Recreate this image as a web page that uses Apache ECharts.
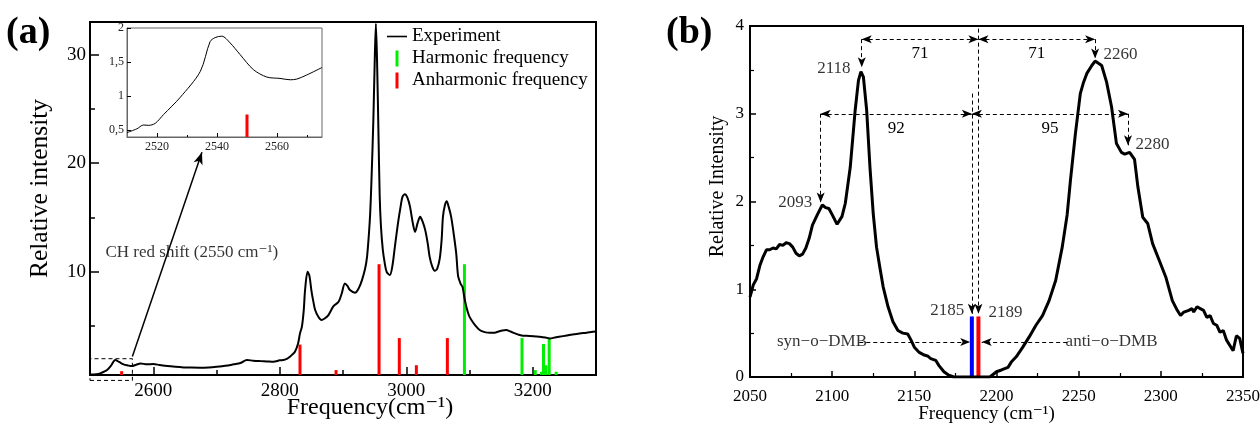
<!DOCTYPE html>
<html><head><meta charset="utf-8">
<script src="https://cdn.jsdelivr.net/npm/echarts@6/dist/echarts.min.js"></script>
<style>html,body{margin:0;padding:0;background:#fff}#c{width:1260px;height:424px}</style>
</head><body><div id="c"></div>
<script>
// ---------- Panel (a): experiment spectrum ----------
const expX = [2500,2510,2516,2522,2527,2533,2540,2546,2553,2560,2566,2573,2580,2590,2600,2610,2622,2635,2648,2660,2674,2688,2700,2714,2727,2738,2748,2758,2769,2780,2790,2800,2806,2812,2816,2820,2824,2829,2832,2835,2838,2840,2844,2847,2850,2853,2856,2861,2866,2871,2877,2885,2893,2898,2903,2907,2911,2919,2925,2930,2935,2938,2941,2943,2945,2948,2950,2952,2954,2956,2958,2960,2963,2966,2969,2974,2978,2982,2987,2991,2994,2998,3002,3006,3010,3014,3018,3022,3026,3030,3034,3037,3041,3045,3049,3053,3056,3058,3061,3064,3067,3071,3075,3079,3082,3086,3089,3092,3095,3099,3103,3110,3116,3124,3132,3140,3145,3152,3158,3165,3172,3178,3185,3195,3205,3211,3220,3227,3235,3248,3260,3274,3285,3295,3300];
const expY = [0.55,0.58,0.65,0.8,0.96,1.35,1.88,1.7,1.48,1.38,1.32,1.45,1.57,1.48,1.51,1.42,1.32,1.25,1.2,1.18,1.17,1.2,1.26,1.35,1.48,1.6,1.88,1.82,1.78,1.75,1.72,1.85,1.88,2.0,2.18,2.4,2.64,3.41,4.33,4.94,6.5,8.3,10.0,9.6,8.3,7.3,6.48,5.86,5.56,5.7,6.02,6.84,7.24,8.0,8.93,8.7,8.32,8.07,8.5,9.24,10.3,11.38,13.5,15.4,18.4,24,29,32.85,29,23,17,14.2,12.0,10.8,10.0,9.7,10.5,12.3,14.5,15.98,16.9,17.15,16.8,15.98,14.6,13.68,14.5,15.06,14.6,13.84,12.6,11.38,10.5,10.1,10.3,11.23,13.0,15.06,16.1,16.5,16.0,15.06,13.5,11.7,9.6,8.9,8.6,7.6,6.78,6.0,5.56,5.0,4.64,4.45,4.39,4.4,4.48,4.6,4.64,4.5,4.33,4.2,4.11,4.1,4.05,4.02,3.95,3.87,3.95,4.08,4.2,4.33,4.4,4.48,4.5];
const harmX = [3092,3183,3204,3214,3217,3221,3226,3237];
const harmY = [10.7,3.9,0.95,0.8,3.35,1.4,3.9,0.8];
const anharmX = [2550,2832,2889,2957,2989,3016,3065];
const anharmY = [0.85,3.3,0.95,10.7,3.9,1.4,3.9];
const aXMajor = [2600,2800,3000,3200];
const aXMinor = [2700,2900,3100];
const aYMajor = [10,20,30];
const aYMinor = [5,15,25];
const zoomBoxX = [2500,2567,2567,2500,2500];
const zoomBoxY = [0,0,2,2,0];
const zoomArrow = [[2567,2.2],[2677,21]];
const noteA = [[2661,11.75,'CH red shift (2550 cm\u207B\u00B9)']];
// inset
const insetX = [2510,2513.3,2515.5,2517.2,2519.4,2522.2,2527.7,2534.4,2537.7,2539.4,2541.6,2544.4,2547.7,2552.1,2556.6,2561,2564.4,2566.6,2569.9,2575];
const insetY = [0.465,0.52,0.576,0.571,0.6,0.73,0.98,1.36,1.8,1.86,1.88,1.78,1.61,1.39,1.28,1.26,1.24,1.25,1.31,1.42];
const insetBarX = [2550];
const insetBarY = [0.73];
const insetXMajor = [2520,2540,2560];
const insetXMinor = [2530,2550,2570];
const insetYMajor = [0.5,1,1.5,2];

// ---------- Panel (b) ----------
const bX = [2050,2052,2054,2056,2058,2060,2062,2064,2066,2068,2070,2072,2074,2076,2078,2080,2082,2084,2086,2088,2091,2094,2096,2098,2100,2103,2104,2106,2108,2111,2114,2116,2117.5,2119,2121,2123,2125,2127,2129,2131,2134,2137,2140,2143,2146,2148,2150,2153,2156,2158,2160,2163,2165,2168,2171,2174,2180,2190,2196,2200,2203,2207,2209,2212,2216,2220,2224,2228,2232,2236,2240,2243,2245,2248,2251,2253,2255,2258,2260,2264,2267,2270,2273,2276,2278,2281,2284,2286,2289,2292,2295,2299,2303,2307,2310,2312,2314,2317,2319,2320,2322,2324,2326,2328,2330,2332,2334,2336,2338,2340,2344,2346,2348,2350];
const bY = [0.91,1.05,1.12,1.27,1.37,1.45,1.45,1.47,1.46,1.51,1.50,1.53,1.52,1.48,1.41,1.38,1.40,1.47,1.58,1.73,1.85,1.96,1.93,1.92,1.85,1.74,1.72,1.83,1.98,2.39,3.04,3.38,3.48,3.42,3.04,2.39,1.86,1.48,1.25,1.03,0.80,0.63,0.53,0.50,0.49,0.42,0.34,0.28,0.25,0.24,0.21,0.19,0.13,0.06,0.02,0.0,0.0,0.0,0.0,0.06,0.08,0.11,0.17,0.23,0.34,0.46,0.59,0.70,0.87,1.10,1.48,1.85,2.24,2.77,3.23,3.36,3.46,3.55,3.60,3.55,3.36,3.08,2.66,2.56,2.54,2.56,2.48,2.17,1.82,1.75,1.52,1.33,1.14,0.87,0.76,0.70,0.74,0.76,0.78,0.74,0.80,0.78,0.76,0.68,0.70,0.61,0.59,0.51,0.53,0.42,0.30,0.47,0.44,0.27];
const synX = [2185], synY = [0.69];
const antiX = [2189], antiY = [0.69];
const dimArrows = [[2118,2189,3.85,'71'],[2189,2260,3.85,'71'],[2093,2185,3.0,'92'],[2185,2280,3.0,'95']];
const dropLines = [[2118,3.85,3.53],[2260,3.85,3.63],[2093,3.0,1.99],[2280,3.0,2.64],[2185,3.23,0.72],[2189,3.97,0.72]];
const dmbArrows = [[2116.5,2184,0.40],[2243,2191,0.40]];
const bLabels = [[2101,3.51,'2118'],[2275.5,3.67,'2260'],[2077.5,1.99,'2093'],[2295,2.65,'2280'],[2170,0.76,'2185'],[2205.5,0.73,'2189'],[2093.8,0.40,'syn\u2212o\u2212DMB'],[2270,0.40,'anti\u2212o\u2212DMB']];

const zip = (xs, ys) => xs.map((x, i) => [x, ys[i]]);
const SERIF = '"Liberation Serif", "DejaVu Serif", serif';
const BLACK = '#000';
const plain = v => String(v);

const chart = echarts.init(document.getElementById('c'));
const tick = (len, vals, w) => ({show: true, inside: true, length: len, customValues: vals, lineStyle: {color: BLACK, width: w || 1.5}});

const option = {
  animation: false,
  textStyle: {fontFamily: SERIF},
  graphic: [
    {type: 'text', left: 6, top: 14, style: {text: '(a)', font: 'bold 38px "Liberation Serif"', fill: BLACK}},
    {type: 'text', left: 666, top: 14, style: {text: '(b)', font: 'bold 38px "Liberation Serif"', fill: BLACK}}
  ],
  legend: {
    left: 387, top: 27, padding: 0, orient: 'vertical', itemWidth: 20, itemHeight: 16, itemGap: 3,
    textStyle: {fontSize: 19, fontFamily: SERIF, color: BLACK},
    selectedMode: false,
    data: [
      {name: 'Experiment', icon: 'path://M0,0 M20,16 M0,7.2 L20,7.2 L20,8.8 L0,8.8 Z'},
      {name: 'Harmonic frequency', icon: 'path://M0,0 M20,16 M8.5,0 L11.5,0 L11.5,16 L8.5,16 Z'},
      {name: 'Anharmonic frequency', icon: 'path://M0,0 M20,16 M8.5,0 L11.5,0 L11.5,16 L8.5,16 Z'}
    ]
  },
  grid: [
    {left: 90, top: 22, width: 506, height: 353, show: true, borderColor: BLACK, borderWidth: 2, backgroundColor: 'transparent', outerBoundsMode: 'none', containLabel: false},
    {left: 127, top: 28, width: 195, height: 109, show: true, borderColor: '#666', borderWidth: 1, backgroundColor: '#fff', outerBoundsMode: 'none', containLabel: false},
    {left: 750, top: 26, width: 493, height: 351, show: true, borderColor: BLACK, borderWidth: 2, backgroundColor: 'transparent', outerBoundsMode: 'none', containLabel: false}
  ],
  xAxis: [
    {gridIndex: 0, type: 'value', min: 2500, max: 3300, position: 'bottom',
      axisLine: {onZero: false, lineStyle: {color: BLACK, width: 2}},
      axisTick: tick(8, aXMajor), splitLine: {show: false},
      axisLabel: {customValues: aXMajor, fontSize: 19, color: BLACK, margin: 7, fontFamily: SERIF, formatter: plain},
      name: 'Frequency(cm\u207B\u00B9)', nameLocation: 'middle', nameGap: 21, nameMoveOverlap: false,
      nameTextStyle: {fontSize: 24, color: BLACK, fontFamily: SERIF, padding: [0, 0, 0, 54]}},
    {gridIndex: 0, type: 'value', min: 2500, max: 3300, position: 'bottom',
      axisLine: {show: false}, axisTick: tick(5, aXMinor), axisLabel: {show: false}, splitLine: {show: false}},
    {gridIndex: 1, type: 'value', min: 2510, max: 2575, position: 'bottom',
      axisLine: {onZero: false, lineStyle: {color: '#666', width: 1}},
      axisTick: tick(4, insetXMajor, 1), splitLine: {show: false},
      axisLabel: {customValues: insetXMajor, fontSize: 12, color: '#222', margin: 4, fontFamily: SERIF, formatter: plain}},
    {gridIndex: 1, type: 'value', min: 2510, max: 2575, position: 'bottom',
      axisLine: {show: false}, axisTick: tick(2, insetXMinor, 1), axisLabel: {show: false}, splitLine: {show: false}},
    {gridIndex: 2, type: 'value', min: 2050, max: 2350, interval: 50, position: 'bottom',
      axisLine: {onZero: false, lineStyle: {color: BLACK, width: 2}},
      axisTick: {inside: true, length: 6, lineStyle: {color: BLACK, width: 1.5}},
      minorTick: {show: true, splitNumber: 2, length: 4, lineStyle: {color: BLACK, width: 1.2}},
      splitLine: {show: false}, minorSplitLine: {show: false},
      axisLabel: {fontSize: 17, color: BLACK, margin: 11, fontFamily: SERIF, formatter: plain},
      name: 'Frequency (cm\u207B\u00B9)', nameLocation: 'middle', nameGap: 28, nameMoveOverlap: false,
      nameTextStyle: {fontSize: 19, color: BLACK, fontFamily: SERIF, padding: [0, 20, 0, 0]}}
  ],
  yAxis: [
    {gridIndex: 0, type: 'value', min: 0.5, max: 33, position: 'left',
      axisLine: {onZero: false, lineStyle: {color: BLACK, width: 2}},
      axisTick: tick(9, aYMajor), splitLine: {show: false},
      axisLabel: {customValues: aYMajor, fontSize: 19, color: BLACK, margin: 4, fontFamily: SERIF, formatter: plain},
      name: 'Relative intensity', nameLocation: 'middle', nameGap: 37, nameMoveOverlap: false,
      nameTextStyle: {fontSize: 25.5, color: BLACK, fontFamily: SERIF, padding: [0, 0, 0, 20]}},
    {gridIndex: 0, type: 'value', min: 0.5, max: 33, position: 'left',
      axisLine: {show: false}, axisTick: tick(5, aYMinor), axisLabel: {show: false}, splitLine: {show: false}},
    {gridIndex: 1, type: 'value', min: 0.4, max: 2, position: 'left',
      axisLine: {onZero: false, lineStyle: {color: '#666', width: 1}},
      axisTick: tick(4, insetYMajor, 1), splitLine: {show: false},
      axisLabel: {customValues: insetYMajor, fontSize: 12, color: '#222', margin: 3, fontFamily: SERIF,
        formatter: v => String(v).replace('.', ',')}},
    {gridIndex: 2, type: 'value', min: 0, max: 4, interval: 1, position: 'left',
      axisLine: {onZero: false, lineStyle: {color: BLACK, width: 2}},
      axisTick: {inside: true, length: 6, lineStyle: {color: BLACK, width: 1.5}},
      minorTick: {show: true, splitNumber: 2, length: 4, lineStyle: {color: BLACK, width: 1.2}},
      splitLine: {show: false}, minorSplitLine: {show: false},
      axisLabel: {fontSize: 17, color: BLACK, margin: 6, fontFamily: SERIF, formatter: plain},
      name: 'Relative Intensity', nameLocation: 'middle', nameGap: 22, nameMoveOverlap: false,
      nameTextStyle: {fontSize: 20, color: BLACK, fontFamily: SERIF, padding: [0, 0, 0, 30]}}
  ],
  series: [
    {name: 'Experiment', type: 'line', xAxisIndex: 0, yAxisIndex: 0, data: zip(expX, expY),
      symbol: 'none', smooth: 0.3, lineStyle: {color: BLACK, width: 2}, itemStyle: {color: BLACK}, z: 3},
    {name: 'Harmonic frequency', type: 'bar', xAxisIndex: 0, yAxisIndex: 0, data: zip(harmX, harmY),
      barWidth: 3, barGap: '-100%', itemStyle: {color: '#00ee00'}, z: 2},
    {name: 'Anharmonic frequency', type: 'bar', xAxisIndex: 0, yAxisIndex: 0, data: zip(anharmX, anharmY),
      barWidth: 3, barGap: '-100%', itemStyle: {color: '#ff0000'}, z: 2},
    {name: 'zoombox', type: 'line', xAxisIndex: 0, yAxisIndex: 0, data: zip(zoomBoxX, zoomBoxY),
      symbol: 'none', clip: false, lineStyle: {color: BLACK, width: 1, type: [4, 3]}, silent: true, z: 4,
      markLine: {silent: true, symbol: ['none', 'arrow'], symbolSize: [7, 12], animation: false,
        lineStyle: {color: BLACK, width: 1.5, type: 'solid'}, label: {show: false},
        data: [[{coord: zoomArrow[0]}, {coord: zoomArrow[1]}]]}},
    {name: 'noteA', type: 'scatter', xAxisIndex: 0, yAxisIndex: 0, data: noteA, symbolSize: 1,
      itemStyle: {color: 'rgba(0,0,0,0)'}, silent: true,
      label: {show: true, position: 'inside', formatter: p => p.data[2], color: BLACK, fontSize: 17, fontFamily: SERIF}},
    {name: 'inset', type: 'line', xAxisIndex: 2, yAxisIndex: 2, data: zip(insetX, insetY),
      symbol: 'none', smooth: 0.3, lineStyle: {color: BLACK, width: 1}, z: 5},
    {name: 'insetBar', type: 'bar', xAxisIndex: 2, yAxisIndex: 2, data: zip(insetBarX, insetBarY),
      barWidth: 3, itemStyle: {color: '#ff0000'}, z: 5},
    {name: 'bExp', type: 'line', xAxisIndex: 4, yAxisIndex: 3, data: zip(bX, bY),
      symbol: 'none', lineStyle: {color: BLACK, width: 3}, z: 3},
    {name: 'syn', type: 'bar', xAxisIndex: 4, yAxisIndex: 3, data: zip(synX, synY),
      barWidth: 4, barGap: '-100%', itemStyle: {color: '#0000ff'}, z: 2},
    {name: 'anti', type: 'bar', xAxisIndex: 4, yAxisIndex: 3, data: zip(antiX, antiY),
      barWidth: 4, barGap: '-100%', itemStyle: {color: '#ff0000'}, z: 2},
    {name: 'bNotes', type: 'scatter', xAxisIndex: 4, yAxisIndex: 3, data: bLabels, symbolSize: 1,
      itemStyle: {color: 'rgba(0,0,0,0)'}, silent: true, z: 6,
      label: {show: true, position: 'inside', formatter: p => p.data[2], color: BLACK, fontSize: 17, fontFamily: SERIF},
      markLine: {silent: true, animation: false, symbolSize: [6, 10],
        lineStyle: {color: BLACK, width: 1, type: [4, 3]}, label: {show: false},
        data: [].concat(
          dimArrows.map(d => [
            {coord: [d[0], d[2]], symbol: 'arrow', name: d[3],
              label: {show: true, position: 'insideMiddleBottom', formatter: '{b}', color: BLACK, fontSize: 17, fontFamily: SERIF, distance: 6}},
            {coord: [d[1], d[2]], symbol: 'arrow'}]),
          dropLines.map(d => [{coord: [d[0], d[1]], symbol: 'none'}, {coord: [d[0], d[2]], symbol: 'arrow'}]),
          dmbArrows.map(d => [{coord: [d[0], d[2]], symbol: 'none'}, {coord: [d[1], d[2]], symbol: 'arrow'}])
        )}}
  ]
};
chart.setOption(option);
</script></body></html>
